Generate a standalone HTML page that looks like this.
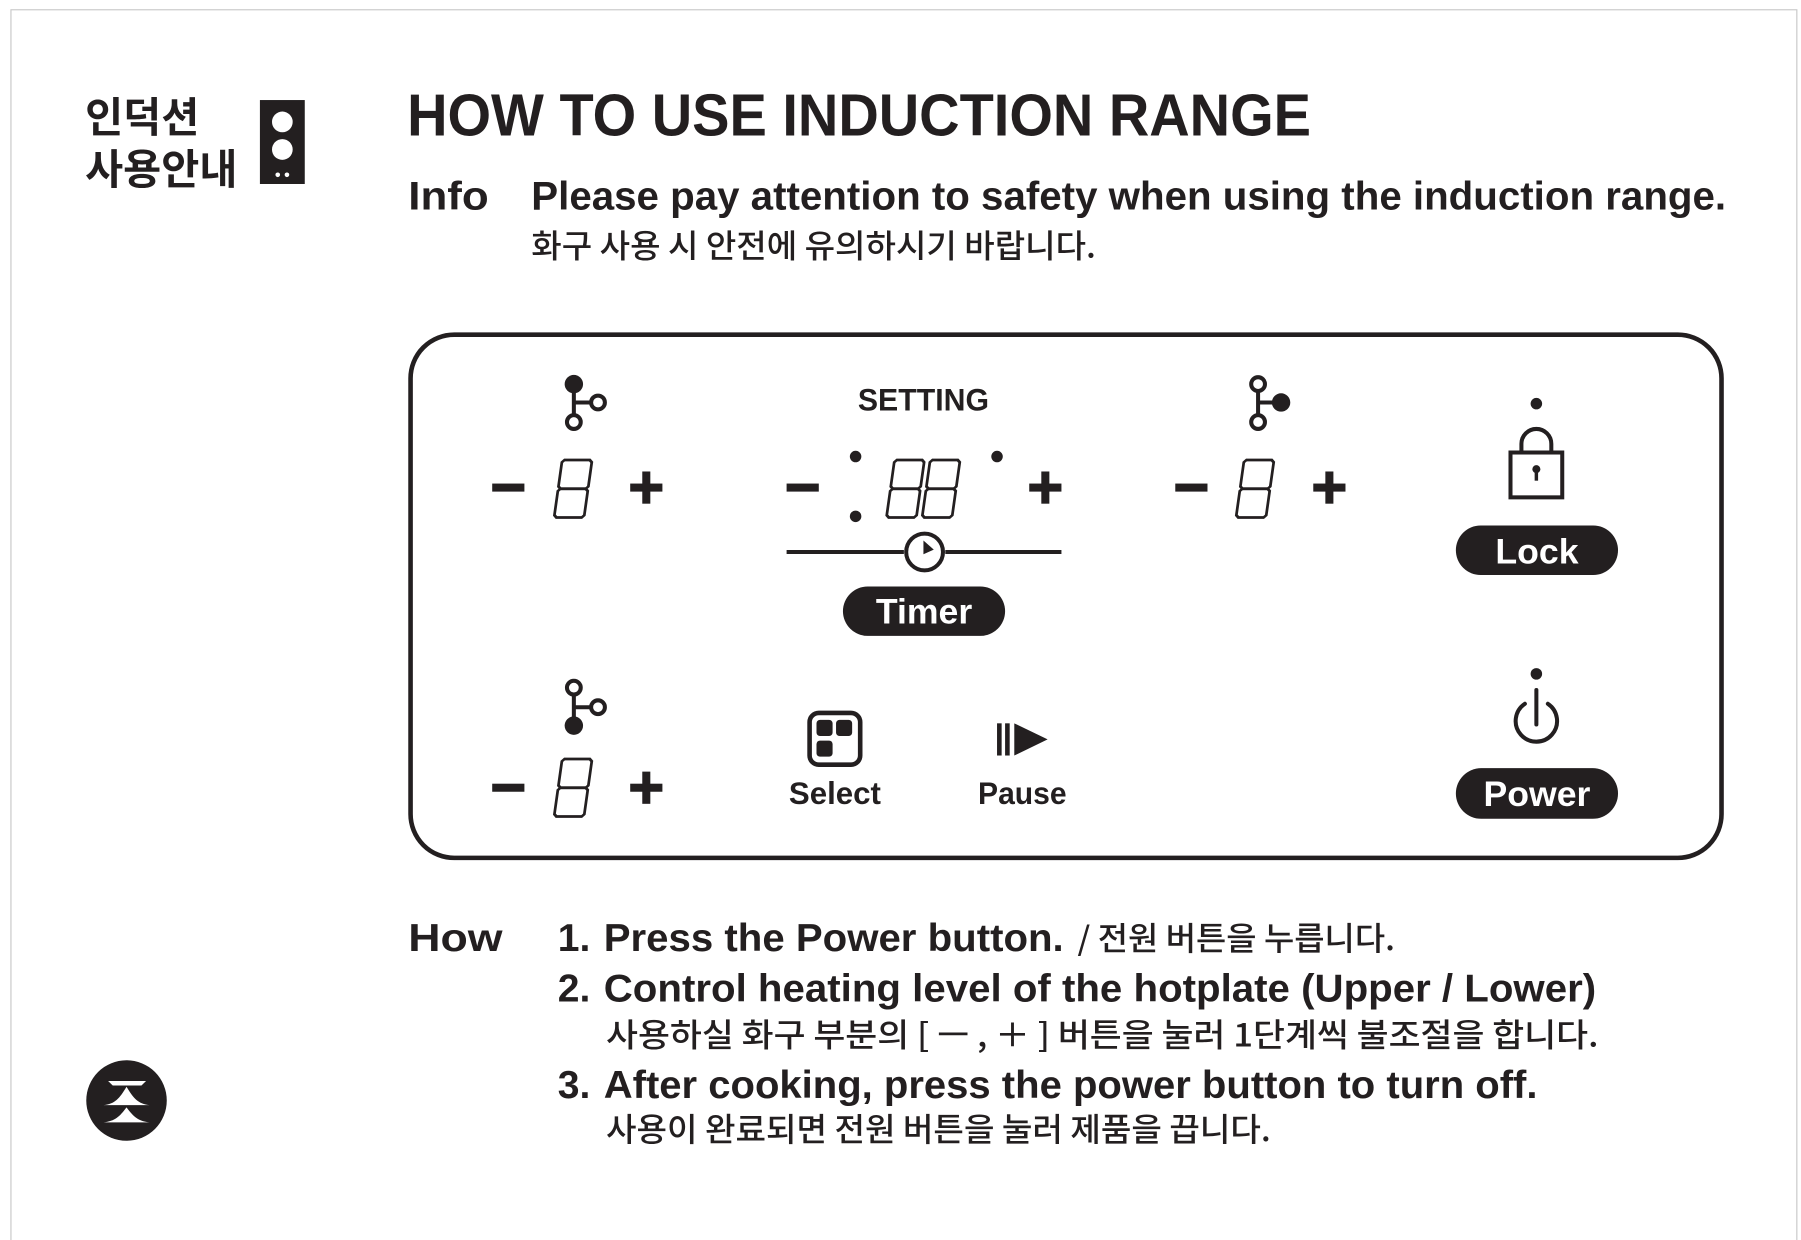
<!DOCTYPE html>
<html><head><meta charset="utf-8"><style>
html,body{margin:0;padding:0;background:#fff}
svg{display:block}
text{font-family:"Liberation Sans","Noto Sans CJK KR",sans-serif;fill:#231f20}
.k{font-family:"Noto Sans CJK KR","NanumGothic",sans-serif}
</style></head><body>
<svg width="1801" height="1240" viewBox="0 0 1566.1 1078.3" xmlns="http://www.w3.org/2000/svg">
<defs>
<g id="dig"><g transform="skewX(-8)" fill="none" stroke="#231f20" stroke-width="2.4">
<path d="M3 1 H25 L27 3 V24 L25 26 H3 L1 24 V3 Z"/>
<path d="M3 26 H25 L27 28 V49 L25 51 H3 L1 49 V28 Z"/>
</g></g>
<g id="minus"><rect x="-14" y="-3.5" width="28" height="7" fill="#231f20"/></g>
<g id="plus"><rect x="-14" y="-3.5" width="28" height="7" fill="#231f20"/><rect x="-3.5" y="-14" width="7" height="28" fill="#231f20"/></g>
</defs>
<rect x="9.5" y="8.5" width="1553" height="1080" fill="none" stroke="#c8c8c8" stroke-width="1"/>
<!-- Korean title -->
<text class="k" x="74" y="115" font-size="36" font-weight="700">인덕션</text>
<text class="k" x="74" y="160" font-size="36" font-weight="700">사용안내</text>
<rect x="226" y="87" width="39" height="73" fill="#231f20"/>
<circle cx="245.5" cy="106" r="9" fill="#fff"/>
<circle cx="245.5" cy="130" r="9" fill="#fff"/>
<circle cx="241.5" cy="152" r="2" fill="#fff"/><circle cx="249.5" cy="152" r="2" fill="#fff"/>
<!-- Title -->
<text x="354" y="118" font-size="52" font-weight="700" textLength="786" lengthAdjust="spacingAndGlyphs">HOW TO USE INDUCTION RANGE</text>
<text x="355" y="182" font-size="35" font-weight="700" textLength="70" lengthAdjust="spacingAndGlyphs">Info</text>
<text x="462" y="182" font-size="35" font-weight="700" textLength="1039" lengthAdjust="spacingAndGlyphs">Please pay attention to safety when using the induction range.</text>
<text class="k" x="462" y="224" font-size="28" font-weight="500" textLength="491" lengthAdjust="spacingAndGlyphs">화구 사용 시 안전에 유의하시기 바랍니다.</text>
<!-- Panel -->
<rect x="357" y="291" width="1140" height="455" rx="38" fill="none" stroke="#231f20" stroke-width="4"/>
<!-- burner icon left top -->
<g fill="none" stroke="#231f20" stroke-width="3.5">
<line x1="499" y1="336" x2="499" y2="362"/><line x1="499" y1="350" x2="514" y2="350"/>
<circle cx="520" cy="350" r="6"/><circle cx="499" cy="367" r="6"/>
</g><circle cx="499" cy="334" r="8" fill="#231f20"/>
<use href="#minus" x="442" y="424"/><use href="#dig" x="488" y="399"/><use href="#plus" x="562" y="424"/>
<!-- Timer -->
<text x="803" y="357" font-size="27" font-weight="700" text-anchor="middle" textLength="114" lengthAdjust="spacingAndGlyphs">SETTING</text>
<use href="#minus" x="698" y="424"/>
<circle cx="744" cy="397" r="5" fill="#231f20"/><circle cx="744" cy="449" r="5" fill="#231f20"/>
<use href="#dig" x="777" y="399"/><use href="#dig" x="808" y="399"/>
<circle cx="867" cy="397" r="5" fill="#231f20"/>
<use href="#plus" x="909" y="424"/>
<line x1="684" y1="480" x2="786" y2="480" stroke="#231f20" stroke-width="3.5"/>
<line x1="822" y1="480" x2="923" y2="480" stroke="#231f20" stroke-width="3.5"/>
<circle cx="804" cy="480" r="16" fill="none" stroke="#231f20" stroke-width="3.5"/>
<path d="M803 470 V482 L812 478 Z" fill="#231f20"/>
<rect x="733" y="510" width="141" height="43" rx="21.5" fill="#231f20"/>
<text x="803.5" y="542" font-size="31" font-weight="700" text-anchor="middle" style="fill:#fff">Timer</text>
<!-- burner icon right top -->
<g fill="none" stroke="#231f20" stroke-width="3.5">
<line x1="1094" y1="340" x2="1094" y2="362"/><line x1="1094" y1="350" x2="1108" y2="350"/>
<circle cx="1094" cy="334" r="6"/><circle cx="1094" cy="367" r="6"/>
</g><circle cx="1114" cy="350" r="8" fill="#231f20"/>
<use href="#minus" x="1036" y="424"/><use href="#dig" x="1081" y="399"/><use href="#plus" x="1156" y="424"/>
<!-- Lock -->
<circle cx="1336" cy="351" r="5" fill="#231f20"/>
<path d="M1323 393 V386 A13 13 0 0 1 1349 386 V393" fill="none" stroke="#231f20" stroke-width="3.5"/>
<rect x="1313.5" y="393.5" width="45" height="39" fill="none" stroke="#231f20" stroke-width="3.5"/>
<circle cx="1336" cy="408" r="3.5" fill="#231f20"/><rect x="1334.5" y="408" width="3" height="10" fill="#231f20"/>
<rect x="1266" y="457" width="141" height="43" rx="21.5" fill="#231f20"/>
<text x="1336.5" y="490" font-size="31" font-weight="700" text-anchor="middle" style="fill:#fff">Lock</text>
<!-- burner icon bottom -->
<g fill="none" stroke="#231f20" stroke-width="3.5">
<line x1="499" y1="604" x2="499" y2="625"/><line x1="499" y1="615" x2="514" y2="615"/>
<circle cx="520" cy="615" r="6"/><circle cx="499" cy="598" r="6"/>
</g><circle cx="499" cy="631" r="8" fill="#231f20"/>
<use href="#minus" x="442" y="685"/><use href="#dig" x="488" y="659"/><use href="#plus" x="562" y="685"/>
<!-- Select -->
<rect x="704" y="620" width="44" height="45" rx="8" fill="none" stroke="#231f20" stroke-width="4"/>
<rect x="710" y="626" width="14" height="14" rx="3" fill="#231f20"/><rect x="727" y="626" width="14" height="14" rx="3" fill="#231f20"/>
<rect x="710" y="644" width="14" height="14" rx="3" fill="#231f20"/>
<text x="726" y="699" font-size="27" font-weight="700" text-anchor="middle" textLength="80" lengthAdjust="spacingAndGlyphs">Select</text>
<!-- Pause -->
<rect x="867" y="629" width="4" height="28" fill="#231f20"/><rect x="874" y="629" width="4" height="28" fill="#231f20"/>
<path d="M882 629 L911 643 L882 657 Z" fill="#231f20"/>
<text x="889" y="699" font-size="27" font-weight="700" text-anchor="middle" textLength="77" lengthAdjust="spacingAndGlyphs">Pause</text>
<!-- Power -->
<circle cx="1336" cy="586" r="5" fill="#231f20"/>
<path d="M1326 612 A18 18 0 1 0 1346 612" fill="none" stroke="#231f20" stroke-width="3.5" stroke-linecap="round"/>
<line x1="1336" y1="600" x2="1336" y2="630" stroke="#231f20" stroke-width="3.5" stroke-linecap="round"/>
<rect x="1266" y="668" width="141" height="44" rx="22" fill="#231f20"/>
<text x="1336.5" y="701" font-size="31" font-weight="700" text-anchor="middle" style="fill:#fff">Power</text>
<!-- How -->
<text x="355" y="827" font-size="34" font-weight="700" textLength="82" lengthAdjust="spacingAndGlyphs">How</text>
<text x="485" y="827" font-size="34" font-weight="700">1.</text>
<text x="525" y="827" font-size="34" font-weight="700" textLength="400" lengthAdjust="spacingAndGlyphs">Press the Power button.</text>
<text class="k" x="937" y="826" font-size="28" font-weight="500" textLength="276" lengthAdjust="spacingAndGlyphs">/ 전원 버튼을 누릅니다.</text>
<text x="485" y="871" font-size="34" font-weight="700">2.</text>
<text x="525" y="871" font-size="34" font-weight="700" textLength="863" lengthAdjust="spacingAndGlyphs">Control heating level of the hotplate (Upper / Lower)</text>
<text class="k" x="527" y="910" font-size="28" font-weight="500" textLength="863" lengthAdjust="spacingAndGlyphs">사용하실 화구 부분의 [ ㅡ ,  ＋ ] 버튼을 눌러 1단계씩 불조절을 합니다.</text>
<text x="485" y="955" font-size="34" font-weight="700">3.</text>
<text x="525" y="955" font-size="34" font-weight="700" textLength="812" lengthAdjust="spacingAndGlyphs">After cooking, press the power button to turn off.</text>
<text class="k" x="527" y="992" font-size="28" font-weight="500" textLength="578" lengthAdjust="spacingAndGlyphs">사용이 완료되면 전원 버튼을 눌러 제품을 끕니다.</text>
<!-- logo -->
<circle cx="110" cy="957" r="35" fill="#231f20"/>
<g fill="#fff">
<path d="M94 940 H127 L123 944 H98 Z"/>
<path d="M110 945 C104 955 100 960 90 961 H130 C120 960 116 955 110 945 Z"/>
<path d="M110 963 C104 971 100 975 90 976 H130 C120 975 116 971 110 963 Z"/>
</g>
</svg>
</body></html>
